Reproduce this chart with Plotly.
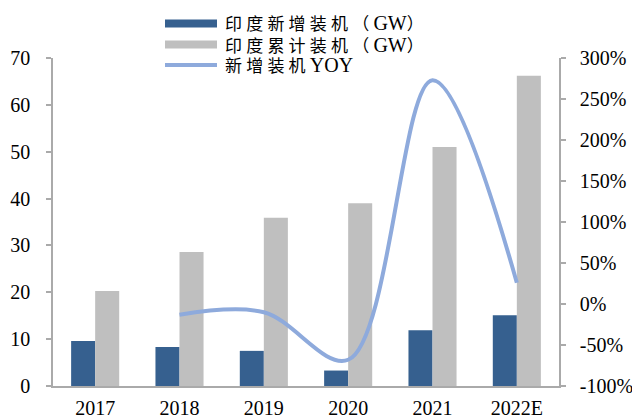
import plotly.graph_objects as go

years = ["2017", "2018", "2019", "2020", "2021", "2022E"]
new_gw = [9.6, 8.3, 7.5, 3.3, 11.9, 15.1]
cum_gw = [20.3, 28.6, 35.9, 39.0, 51.0, 66.2]
yoy_years = ["2018", "2019", "2020", "2021", "2022E"]
yoy = [-0.13, -0.10, -0.68, 2.73, 0.26]

left_ticks = [0, 10, 20, 30, 40, 50, 60, 70]
right_ticks = [-1.0, -0.5, 0, 0.5, 1.0, 1.5, 2.0, 2.5, 3.0]
right_text = ["-100%", "-50%", "0%", "50%", "100%", "150%", "200%", "250%", "300%"]

legend_names = ["印度新增装机（GW）", "印度累计装机（GW）", "新增装机YOY"]

BLUE = "#36608f"
GRAY = "#bfbfbf"
LINE = "#8eaadc"
AXIS = "#aaaaaa"
FONT = "Liberation Serif, Times New Roman, Noto Sans CJK SC"

W, H = 632, 420
L, R, T, B = 53, 73, 58, 34
PW, PH = W - L - R, H - T - B

def px(x):
    return (x - L) / PW

def py(y):
    return (H - B - y) / PH

def styled(name):
    cjk = "<span style='font-size:17px;letter-spacing:4.2px'>%s</span>"
    lat = "<span style='font-size:20px'>%s</span>"
    out = ""
    buf = ""
    mode = None
    for ch in name:
        m = "lat" if ord(ch) < 128 else "cjk"
        if mode is not None and m != mode:
            out += (lat if mode == "lat" else cjk) % buf
            buf = ""
        buf += ch
        mode = m
    out += (lat if mode == "lat" else cjk) % buf
    return out

fig = go.Figure()
fig.add_trace(go.Bar(x=years, y=new_gw, name=legend_names[0], marker_color=BLUE, marker_line_width=0))
fig.add_trace(go.Bar(x=years, y=cum_gw, name=legend_names[1], marker_color=GRAY, marker_line_width=0))
fig.add_trace(go.Scatter(x=yoy_years, y=yoy, name=legend_names[2], yaxis="y2", mode="lines",
                         line=dict(color=LINE, width=4, shape="spline", smoothing=1.0)))

shapes = [
    dict(type="rect", xref="paper", yref="paper", x0=px(165), x1=px(217), y0=py(27.5), y1=py(19.5),
         fillcolor=BLUE, line_width=0),
    dict(type="rect", xref="paper", yref="paper", x0=px(165), x1=px(217), y0=py(48.5), y1=py(40.5),
         fillcolor=GRAY, line_width=0),
    dict(type="line", xref="paper", yref="paper", x0=px(165), x1=px(217), y0=py(65), y1=py(65),
         line=dict(color=LINE, width=4)),
]
annotations = []
for name, yc in zip(legend_names, [23, 45, 65]):
    annotations.append(dict(xref="paper", yref="paper", x=px(223), y=py(yc), xanchor="left", yanchor="middle",
                            showarrow=False, text=styled(name),
                            font=dict(family=FONT, size=17, color="#000000")))

fig.update_layout(
    width=W, height=H,
    margin=dict(l=L, r=R, t=T, b=B, pad=0, autoexpand=False),
    paper_bgcolor="white", plot_bgcolor="white",
    barmode="group", bargap=0.43, bargroupgap=0,
    showlegend=False,
    font=dict(family=FONT, size=20, color="#000000"),
    shapes=shapes, annotations=annotations,
    xaxis=dict(type="category", showline=True, linecolor=AXIS, linewidth=1.5, ticks="",
               showgrid=False, zeroline=False, ticklabelstandoff=3, automargin=False,
               tickfont=dict(family=FONT, size=20, color="#000000")),
    yaxis=dict(range=[0, 70], tickvals=left_ticks, ticktext=[str(v) for v in left_ticks],
               showline=True, linecolor=AXIS, linewidth=1.5, ticks="outside", ticklen=5,
               tickcolor=AXIS, tickwidth=1.5, showgrid=False, zeroline=False, ticklabelstandoff=12,
               automargin=False, tickfont=dict(family=FONT, size=20, color="#000000")),
    yaxis2=dict(range=[-1, 3], overlaying="y", side="right", tickvals=right_ticks, ticktext=right_text,
                showline=True, linecolor=AXIS, linewidth=1.5, ticks="outside", ticklen=5,
                tickcolor=AXIS, tickwidth=1.5, showgrid=False, zeroline=False, ticklabelstandoff=10,
                automargin=False, tickfont=dict(family=FONT, size=20, color="#000000")),
)

fig.write_html("out.html", config={"displayModeBar": False},
               post_script="document.body.style.margin='0px';")
